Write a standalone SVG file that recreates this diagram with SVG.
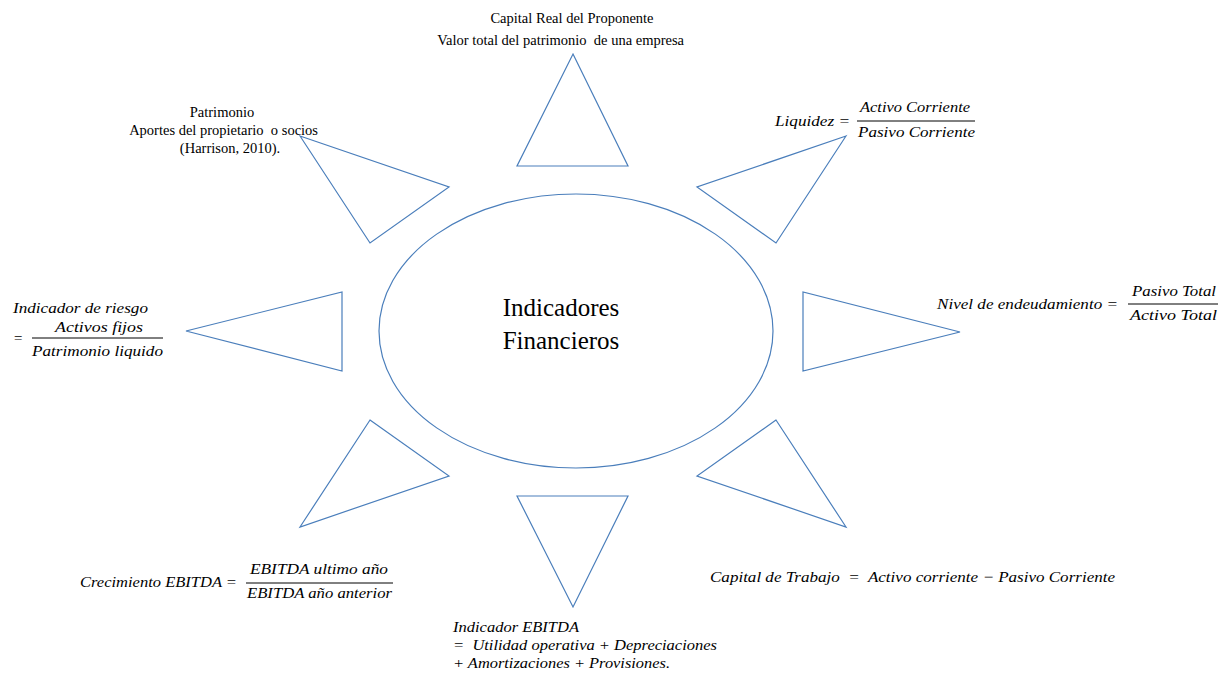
<svg xmlns="http://www.w3.org/2000/svg" width="1222" height="676" viewBox="0 0 1222 676">
<style>
.shape{fill:none;stroke:#4a7ebb;stroke-width:1.2}
.t{font-family:"Liberation Serif","Times New Roman","DejaVu Serif",serif;font-size:14.5px;fill:#000;white-space:pre}
.big{font-family:"Liberation Serif","Times New Roman","DejaVu Serif",serif;font-size:25px;fill:#000;text-anchor:middle}
.m{font-family:"Liberation Serif","Times New Roman","DejaVu Serif",serif;font-style:italic;font-size:15px;fill:#000;white-space:pre}
.bar{stroke:#000;stroke-width:1}
</style>
<rect width="1222" height="676" fill="#fff"/>
<g id="center">
<ellipse class="shape" cx="576" cy="331" rx="197" ry="137"/>
<text class="big" x="561" y="316">Indicadores</text>
<text class="big" x="561" y="349">Financieros</text>
</g>
<g id="connectors">
<polygon id="tri-top" class="shape" points="573,54 628,166 517,166"/>
<polygon id="tri-topleft" class="shape" points="300,136 449,187 370,243"/>
<polygon id="tri-topright" class="shape" points="846,136 697,187 776,243"/>
<polygon id="tri-left" class="shape" points="342,292 342,371 186,331"/>
<polygon id="tri-right" class="shape" points="803,292 803,371 960,332"/>
<polygon id="tri-bottomleft" class="shape" points="370,420 449,476 300,527"/>
<polygon id="tri-bottomright" class="shape" points="776,420 697,476 846,527"/>
<polygon id="tri-bottom" class="shape" points="517,496 628,496 573,607"/>
</g>
<g id="capital-real">
<text class="t" x="572" y="23" text-anchor="middle">Capital Real del Proponente</text>
<text class="t" x="684" y="45" text-anchor="end">Valor total del patrimonio  de una empresa</text>
</g>
<g id="patrimonio">
<text class="t" x="222" y="117" text-anchor="middle">Patrimonio</text>
<text class="t" x="318" y="135" text-anchor="end">Aportes del propietario  o socios</text>
<text class="t" x="230" y="153" text-anchor="middle">(Harrison, 2010).</text>
</g>
<g id="liquidez">
<text class="m" x="775" y="126" textLength="75" lengthAdjust="spacingAndGlyphs">Liquidez =</text>
<text class="m" x="860" y="112" textLength="110" lengthAdjust="spacingAndGlyphs">Activo Corriente</text>
<line class="bar" x1="857" y1="121" x2="975" y2="121"/>
<text class="m" x="858" y="137" textLength="117" lengthAdjust="spacingAndGlyphs">Pasivo Corriente</text>
</g>
<g id="endeudamiento">
<text class="m" x="937" y="309" textLength="181" lengthAdjust="spacingAndGlyphs">Nivel de endeudamiento =</text>
<text class="m" x="1132" y="296" textLength="84" lengthAdjust="spacingAndGlyphs">Pasivo Total</text>
<line class="bar" x1="1128" y1="304" x2="1218" y2="304"/>
<text class="m" x="1130" y="320" textLength="87" lengthAdjust="spacingAndGlyphs">Activo Total</text>
</g>
<g id="riesgo">
<text class="m" x="13" y="313" textLength="135" lengthAdjust="spacingAndGlyphs">Indicador de riesgo</text>
<text class="m" x="55" y="332" textLength="88" lengthAdjust="spacingAndGlyphs">Activos fijos</text>
<text class="m" x="13" y="343">=</text>
<line class="bar" x1="32" y1="338" x2="163" y2="338"/>
<text class="m" x="32" y="356" textLength="131" lengthAdjust="spacingAndGlyphs">Patrimonio liquido</text>
</g>
<g id="crecimiento">
<text class="m" x="80" y="587" textLength="157" lengthAdjust="spacingAndGlyphs">Crecimiento EBITDA =</text>
<text class="m" x="250" y="574" textLength="138" lengthAdjust="spacingAndGlyphs">EBITDA ultimo año</text>
<line class="bar" x1="246" y1="583" x2="393" y2="583"/>
<text class="m" x="247" y="598" textLength="145" lengthAdjust="spacingAndGlyphs">EBITDA año anterior</text>
</g>
<g id="capital-trabajo">
<text class="m" x="710" y="582" textLength="405" lengthAdjust="spacingAndGlyphs">Capital de Trabajo  =  Activo corriente − Pasivo Corriente</text>
</g>
<g id="ebitda">
<text class="m" x="453" y="632" textLength="126" lengthAdjust="spacingAndGlyphs">Indicador EBITDA</text>
<text class="m" x="453" y="650" textLength="264" lengthAdjust="spacingAndGlyphs">=  Utilidad operativa + Depreciaciones</text>
<text class="m" x="453" y="668" textLength="217" lengthAdjust="spacingAndGlyphs">+ Amortizaciones + Provisiones.</text>
</g>
</svg>
